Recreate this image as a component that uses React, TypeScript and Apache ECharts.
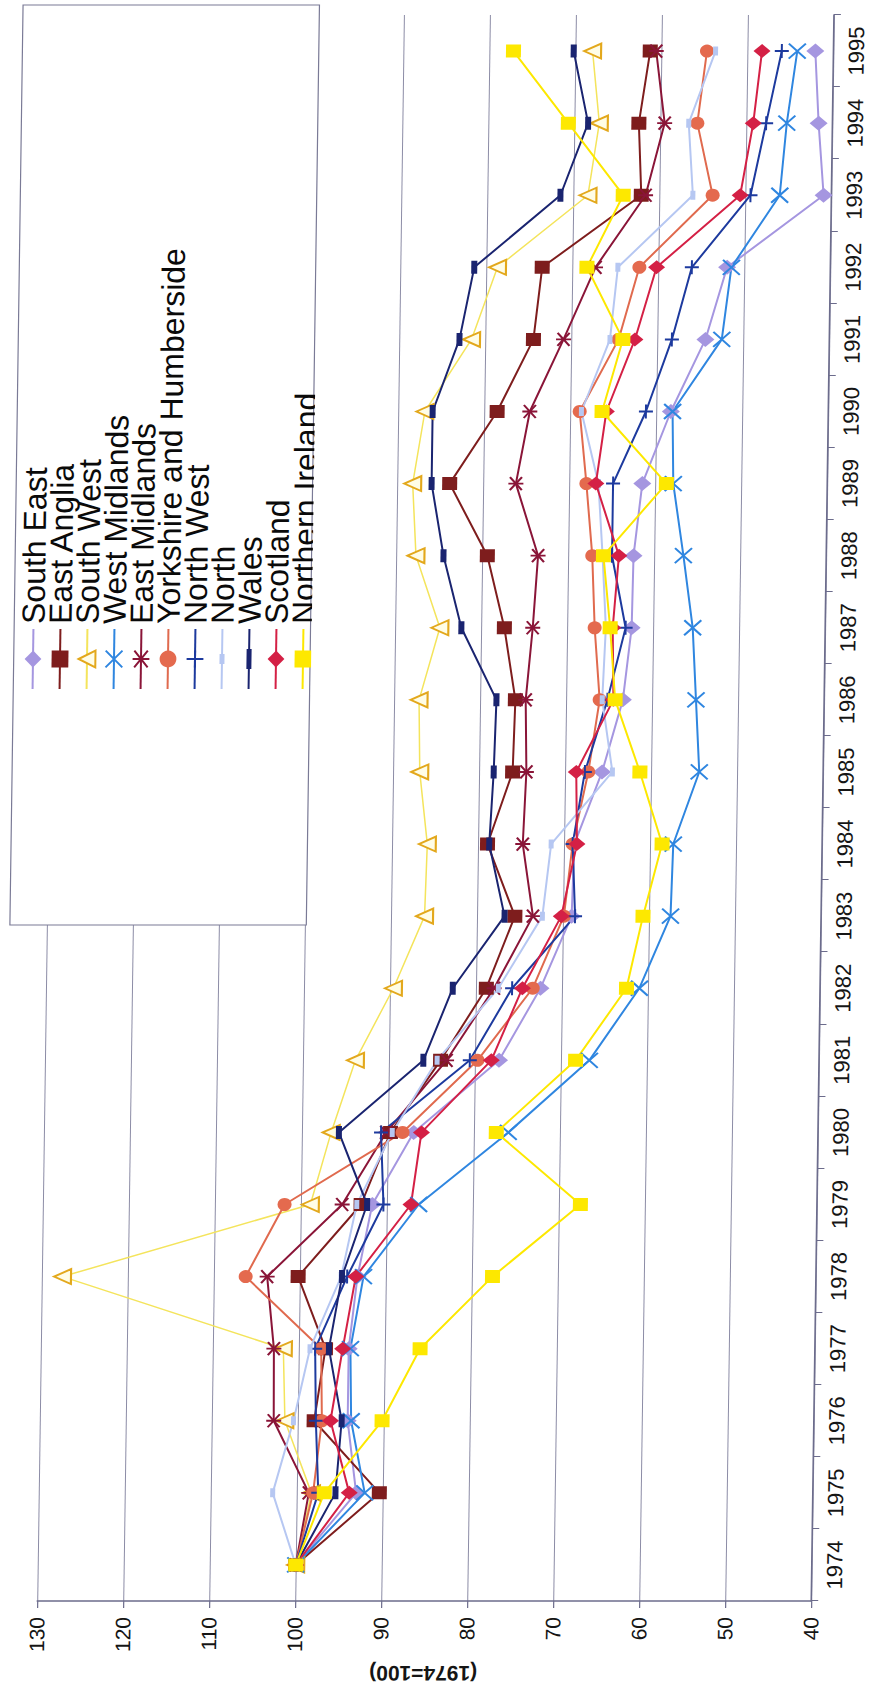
import React, { useEffect, useRef } from 'react';
import * as echarts from 'echarts';

const years = ['1974','1975','1976','1977','1978','1979','1980','1981','1982','1983','1984','1985','1986','1987','1988','1989','1990','1991','1992','1993','1994','1995'];

const southEast = [100, 93.1, 94.2, 94.2, 93.3, 91.7, 87.0, 77.2, 72.5, 69.0, 68.8, 65.7, 63.4, 62.5, 62.4, 61.5, 58.3, 54.4, 52.0, 40.9, 41.6, 42.1];
const eastAnglia = [100, 90.4, 98.1, 96.9, 100.2, 93.0, 89.7, 84.0, 78.8, 75.6, 78.9, 76.1, 75.9, 77.3, 79.4, 83.9, 78.5, 74.4, 73.5, 62.1, 62.5, 61.3];
const southWest = [100, 98.3, 101.5, 101.8, 127.6, 98.9, 96.6, 93.9, 89.6, 86.1, 85.9, 86.9, 87.1, 84.8, 87.7, 88.2, 86.9, 81.6, 78.7, 68.3, 67.1, 68.0];
const westMidlands = [100, 92.1, 93.8, 94.0, 92.6, 86.3, 76.0, 66.7, 61.0, 57.5, 57.3, 54.4, 54.9, 55.4, 56.6, 57.9, 58.1, 52.5, 51.5, 46.0, 45.3, 44.2];
const eastMidlands = [100, 98.6, 102.8, 102.9, 103.8, 95.2, 90.2, 83.3, 77.9, 73.5, 74.8, 74.5, 74.7, 74.0, 73.5, 76.2, 74.7, 70.9, 67.3, 61.6, 59.5, 60.6];
const yorkshire = [100, 98.1, 97.2, 97.4, 106.3, 101.9, 88.3, 79.7, 73.4, 69.9, 69.0, 67.3, 66.1, 66.8, 67.2, 68.0, 68.9, 64.5, 62.2, 53.8, 55.7, 54.7];
const northWest = [100, 97.5, 97.9, 98.1, 94.5, 90.4, 90.8, 80.6, 75.8, 68.6, 69.0, 67.7, 65.2, 63.2, 64.9, 64.9, 61.2, 58.3, 56.1, 49.4, 47.7, 46.0];
const north = [100, 102.8, 100.5, 98.7, 95.2, 93.5, 89.5, 84.4, 77.4, 72.4, 71.5, 64.5, 65.8, 65.5, 66.0, 66.6, 68.7, 65.5, 64.7, 56.1, 56.7, 53.7];
const wales = [100, 95.5, 94.9, 96.5, 95.1, 92.3, 95.7, 86.0, 82.7, 76.8, 78.7, 78.3, 78.1, 82.3, 84.5, 86.0, 86.0, 83.0, 81.4, 71.5, 68.4, 70.2];
const scotland = [100, 93.9, 96.2, 94.9, 93.5, 87.2, 86.1, 78.1, 74.6, 70.2, 68.5, 68.7, 64.5, 64.7, 64.1, 66.9, 65.8, 62.6, 60.2, 50.6, 49.2, 48.3];
const northernIreland = [100, 96.8, 90.2, 85.9, 77.6, 67.5, 77.4, 68.3, 62.5, 60.7, 58.6, 61.3, 64.3, 65.0, 65.9, 58.7, 66.3, 64.0, 68.3, 64.2, 70.7, 77.2];

const valueMin = 40;
const valueMax = 130;
const valueStep = 10;
const axisTitle = '(1974=100)';

const FONT = '"Liberation Sans", Arial, Helvetica, sans-serif';
const AXIS_COLOR = '#6c6c8c';
const GRID_COLOR = '#8c8ca6';

const X_PATH = 'path://M0,0L10,10M10,0L0,10';
const STAR_PATH = 'path://M1,1L9,9M9,1L1,9M5,0L5,10';
const PLUS_PATH = 'path://M5,0L5,10M0,5L10,5';
const WALES_ICON = 'path://M0,0L0.01,0M60,21L59.99,21M0,9.5L60,9.5L60,11.5L0,11.5ZM20,8L40,8L40,13L20,13Z';
const NORTH_ICON = 'path://M0,0L0.01,0M60,21L59.99,21M0,9.5L60,9.5L60,11.5L0,11.5ZM25,8L35,8L35,13L25,13Z';

function mk(name: string, data: number[], symbol: string, size: number[] | number, lineColor: string, fill: string, border: string, borderWidth: number, lineWidth = 2) {
  return {
    name,
    type: 'line',
    data,
    symbol,
    symbolSize: size,
    showAllSymbol: true,
    lineStyle: { color: lineColor, width: lineWidth },
    itemStyle: { color: fill, borderColor: border, borderWidth },
    emphasis: { disabled: true },
  };
}

export default function App() {
  const ref = useRef<HTMLDivElement>(null);
  useEffect(() => {
    const chart = echarts.init(ref.current!, null, { renderer: 'svg' });
    const series = [
      mk('South East', southEast, 'diamond', [15, 18], '#a596e0', '#a596e0', '#a596e0', 0),
      mk('East Anglia', eastAnglia, 'rect', [13, 15], '#7e1d1d', '#7e1d1d', '#7e1d1d', 0),
      mk('South West', southWest, 'triangle', [15, 17], '#f4e45c', '#fffde6', '#e3a81c', 2, 1.5),
      mk('West Midlands', westMidlands, X_PATH, [15, 17], '#2f86e0', '#2f86e0', '#2f86e0', 2),
      mk('East Midlands', eastMidlands, STAR_PATH, [13, 15], '#8a1538', '#8a1538', '#8a1538', 2),
      mk('Yorkshire and Humberside', yorkshire, 'circle', [13, 14], '#e06a4e', '#e46a4e', '#e46a4e', 0),
      mk('North West', northWest, PLUS_PATH, [14, 14], '#1d3a9e', '#1d3a9e', '#1d3a9e', 2),
      mk('North', north, 'rect', [9, 5], '#b6c7f2', '#b6c7f2', '#b6c7f2', 0),
      mk('Wales', wales, 'rect', [13, 6], '#1a2470', '#1a2470', '#1a2470', 0),
      mk('Scotland', scotland, 'diamond', [14, 17], '#d42045', '#d42045', '#d42045', 0),
      mk('Northern Ireland', northernIreland, 'rect', [13, 15], '#fde800', '#fde800', '#fde800', 0),
    ];
    const legendData = series.map((s) => {
      if (s.name === 'Wales') return { name: s.name, icon: WALES_ICON };
      if (s.name === 'North') return { name: s.name, icon: NORTH_ICON };
      return { name: s.name };
    });
    chart.setOption({
      animation: false,
      backgroundColor: '#ffffff',
      textStyle: { fontFamily: FONT },
      grid: { left: 94, right: 15, top: 48, bottom: 50, containLabel: false },
      xAxis: {
        type: 'category',
        data: years,
        boundaryGap: true,
        axisLine: { onZero: false, lineStyle: { color: AXIS_COLOR, width: 1.5 } },
        axisTick: { show: true, length: 7, lineStyle: { color: AXIS_COLOR, width: 1.2 } },
        axisLabel: { fontSize: 22, color: '#151515', margin: 12, fontFamily: FONT, interval: 0 },
        splitLine: { show: false },
      },
      yAxis: {
        type: 'value',
        min: valueMin,
        max: valueMax,
        interval: valueStep,
        name: axisTitle,
        nameLocation: 'middle',
        nameGap: 62,
        nameTextStyle: { fontSize: 21, fontWeight: 'bold', color: '#151515', fontFamily: FONT },
        axisLine: { show: true, lineStyle: { color: AXIS_COLOR, width: 1.5 } },
        axisTick: { show: true, length: 7, lineStyle: { color: AXIS_COLOR, width: 1.2 } },
        axisLabel: { fontSize: 21, color: '#151515', margin: 16, fontFamily: FONT },
        splitLine: { show: true, lineStyle: { color: GRID_COLOR, width: 1 } },
      },
      legend: {
        orient: 'vertical',
        left: 1005,
        top: 14.3,
        padding: 0,
        itemGap: -5,
        itemWidth: 60,
        itemHeight: 21,
        textStyle: { fontSize: 32, lineHeight: 27, color: '#0a0a0a', fontFamily: FONT },
        data: legendData,
        selectedMode: false,
      },
      graphic: [
        {
          type: 'rect',
          z: 1,
          shape: { x: 770, y: 11, width: 920, height: 296.4 },
          style: { fill: '#ffffff', stroke: '#7a7a96', lineWidth: 1.2 },
        },
        {
          type: 'rect',
          z: 10,
          shape: { x: 1000, y: 308.6, width: 460, height: 22 },
          style: { fill: '#ffffff' },
        },
      ],
      series,
    });
    return () => chart.dispose();
  }, []);
  return (
    <div style={{ position: 'fixed', left: 0, top: 0, width: 872, height: 1695, overflow: 'hidden', background: '#ffffff' }}>
      <div
        ref={ref}
        style={{
          position: 'absolute',
          left: 0,
          top: 0,
          width: 1695,
          height: 872,
          transformOrigin: '0 0',
          transform: 'translate(0px, 847.5px) skewX(-0.82deg) translate(0px, 847.5px) rotate(-90deg)',
        }}
      />
    </div>
  );
}
